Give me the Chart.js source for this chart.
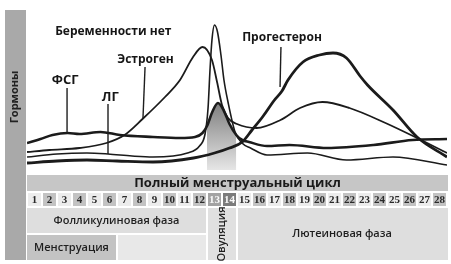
<!DOCTYPE html>
<html lang="ru">
<head>
<meta charset="utf-8">
<script src="https://cdn.jsdelivr.net/npm/chart.js@4"></script>
<style>
  html, body { margin: 0; padding: 0; background: #fff; }
  canvas { display: block; }
</style>
</head>
<body>
<canvas id="grafico" width="451" height="264"></canvas>
<script>
// дни цикла
const days = [1, 2, 3, 4, 5, 6, 7, 8, 9, 10, 11, 12, 13, 14, 15, 16, 17, 18, 19, 20, 21, 22, 23, 24, 25, 26, 27, 28];

// уровни гормонов: [день, уровень]
const fsh = [[0.5, 27], [1.4, 31], [2.2, 35], [3.2, 37], [4.0, 36], [5.4, 38], [6.7, 35], [8.9, 33], [10.7, 32],
  [11.7, 33], [12.2, 37], [12.5, 44], [12.85, 58], [13.23, 67], [13.6, 60], [14.0, 46], [14.45, 35], [14.85, 30],
  [15.3, 28], [16.5, 24], [18.0, 25], [20.5, 22], [23.6, 25], [26.2, 30], [28.5, 31]];
const lh = [[0.5, 13], [2.5, 16], [4.5, 17], [5.9, 16], [7.5, 14], [8.9, 13], [11.2, 17], [12.0, 24], [12.37, 36],
  [12.57, 62], [12.7, 100], [12.83, 130], [13.0, 145], [13.2, 138], [13.43, 115], [13.63, 90], [13.9, 68],
  [14.37, 38], [14.83, 27], [15.4, 22], [16.5, 15], [19.2, 17], [21.8, 10], [24.9, 13], [28.5, 5]];
const estrogen = [[0.5, 18], [2.0, 20], [4.0, 22], [5.8, 27], [7.0, 35], [8.2, 51], [9.7, 73], [10.7, 90],
  [11.57, 113], [12.2, 123], [12.83, 110], [13.17, 88], [13.5, 65], [13.9, 52], [14.5, 46], [15.8, 42],
  [17.4, 50], [18.7, 62], [20.2, 68], [22.0, 62], [24.4, 47], [26.5, 32], [28.5, 17]];
const progesterone = [[0.5, 7], [2.5, 9], [4.5, 10], [6.5, 9], [8.9, 8], [11.6, 12], [13.0, 17], [14.0, 22],
  [14.85, 28], [15.5, 40], [16.2, 53], [17.0, 70], [17.5, 79], [17.9, 90], [18.9, 108], [20.0, 115], [20.9, 117],
  [21.8, 112], [22.7, 94], [23.2, 85], [24.9, 60], [26.5, 33], [28.5, 13]];

// фазы цикла
const phaseNames = ['Фолликулиновая фаза', 'Овуляция', 'Лютеиновая фаза'];
const phaseDays = [[1, 12], [13, 14], [15, 28]];
const menstruationDays = [1, 6];

const toPoints = arr => arr.map(p => ({ x: p[0], y: p[1] }));
const ovulationShade = fsh.filter(p => p[0] >= 12.5 && p[0] <= 14.45);

// подписи кривых: текст, позиция текста, линия-указатель
const notes = [
  { text: 'ФСГ', at: [3.05, 90], size: 13, from: [3.17, 82], to: [3.17, 37] },
  { text: 'ЛГ', at: [6.05, 73], size: 13, from: [5.9, 66], to: [5.9, 16] },
  { text: 'Эстроген', at: [8.4, 110], size: 12, from: [8.37, 103], to: [8.23, 51] },
  { text: 'Прогестерон', at: [17.5, 132], size: 12, from: [17.43, 123], to: [17.37, 83] },
  { text: 'Беременности нет', at: [6.25, 138], size: 12 }
];

const FONT = '"Open Sans", "DejaVu Sans", sans-serif';

function box(c, x1, y1, x2, y2, color) {
  c.fillStyle = color;
  c.fillRect(x1, y1, x2 - x1, y2 - y1);
}

function label(c, text, x, y, size, color, rotate, weight) {
  c.save();
  c.translate(x, y);
  if (rotate) c.rotate(-Math.PI / 2);
  c.font = (weight || 600) + ' ' + size + 'px ' + FONT;
  c.fillStyle = color || '#1e1e1e';
  c.textAlign = 'center';
  c.textBaseline = 'middle';
  c.fillText(text, 0, 0);
  c.restore();
}

const hormoneDiagram = {
  id: 'hormoneDiagram',
  beforeDraw(chart) {
    const c = chart.ctx;
    const xs = chart.scales.x;
    c.save();
    box(c, 0, 0, chart.width, chart.height, '#fff');

    // полоса "Гормоны"
    box(c, 5, 10, 26, 260, '#a9a9a9');
    label(c, 'Гормоны', 15, 97, 11, '#222', true, 700);

    const left = xs.getPixelForValue(0.5);
    const right = xs.getPixelForValue(28.5) + 1;
    const edge = d => xs.getPixelForValue(d);

    // заголовок
    box(c, left, 175, right, 191, '#c6c6c6');
    label(c, 'Полный менструальный цикл', (left + right) / 2, 183, 13, '#1a1a1a', false, 700);

    // дни
    days.forEach(d => {
      const cx = xs.getPixelForValue(d);
      let bg = d % 2 ? '#ececec' : '#c3c3c3';
      let fg = '#2a2a2a';
      if (d === 13) { bg = '#a3a3a3'; fg = '#fafafa'; }
      if (d === 14) { bg = '#7c7c7c'; fg = '#fafafa'; }
      box(c, cx - 6.5, 193, cx + 6.5, 206, bg);
      c.font = 'bold 11px "Liberation Serif", "DejaVu Serif", serif';
      c.fillStyle = fg;
      c.textAlign = 'center';
      c.textBaseline = 'middle';
      c.fillText(String(d), cx, 200);
    });

    // фазы
    phaseDays.forEach((range, i) => {
      const x1 = edge(range[0] - 0.5) + (i ? 1 : 0);
      const x2 = edge(range[1] + 0.5) - 1;
      const bottom = i === 0 ? 233 : 260;
      box(c, x1, 208, x2 + (i === 2 ? 2 : 0), bottom, i === 1 ? '#e0e0e0' : '#dedede');
      label(c, phaseNames[i], (x1 + x2) / 2, i === 0 ? 221 : 234, 11, '#1e1e1e', i === 1);
    });

    // менструация
    const m1 = edge(menstruationDays[0] - 0.5);
    const m2 = edge(menstruationDays[1] + 0.5) - 1;
    box(c, m1, 235, m2, 260, '#c3c3c3');
    box(c, m2 + 2, 235, edge(phaseDays[0][1] + 0.5) - 1, 260, '#e8e8e8');
    label(c, 'Менструация', (m1 + m2) / 2, 248, 11, '#1e1e1e');

    c.restore();
  },
  afterDatasetsDraw(chart) {
    const c = chart.ctx;
    const xs = chart.scales.x;
    const ys = chart.scales.y;
    c.save();
    c.strokeStyle = '#1e1e1e';
    c.lineWidth = 1.4;
    notes.forEach(n => {
      if (n.from) {
        c.beginPath();
        c.moveTo(xs.getPixelForValue(n.from[0]), ys.getPixelForValue(n.from[1]));
        c.lineTo(xs.getPixelForValue(n.to[0]), ys.getPixelForValue(n.to[1]));
        c.stroke();
      }
      label(c, n.text, xs.getPixelForValue(n.at[0]), ys.getPixelForValue(n.at[1]), n.size, '#161616', false, 700);
    });
    c.restore();
  }
};

const line = (data, width, order) => ({
  data: toPoints(data),
  borderColor: '#1b1b1b',
  borderWidth: width,
  pointRadius: 0,
  fill: false,
  cubicInterpolationMode: 'monotone',
  order: order
});

const ctx = document.getElementById('grafico').getContext('2d');

const config = {
  type: 'line',
  data: {
    datasets: [
      line(fsh, 2.6, 1),
      line(lh, 1.6, 2),
      line(estrogen, 1.8, 3),
      line(progesterone, 2.8, 4),
      {
        data: toPoints(ovulationShade),
        borderWidth: 0,
        pointRadius: 0,
        cubicInterpolationMode: 'monotone',
        fill: 'origin',
        order: 10,
        backgroundColor: function (context) {
          const area = context.chart.chartArea;
          if (!area) return '#aaa';
          const g = context.chart.ctx.createLinearGradient(0, 100, 0, area.bottom);
          g.addColorStop(0, '#7a7a7a');
          g.addColorStop(1, '#e6e6e6');
          return g;
        }
      }
    ]
  },
  options: {
    responsive: false,
    animation: false,
    layout: { padding: { left: 27, right: 4, top: 0, bottom: 94 } },
    scales: {
      x: { type: 'linear', min: 0.5, max: 28.5, display: false },
      y: { min: 0, max: 170, display: false }
    },
    plugins: {
      legend: { display: false },
      tooltip: { enabled: false },
      title: { display: false }
    }
  },
  plugins: [hormoneDiagram]
};

const myChart = new Chart(ctx, config);
</script>
</body>
</html>
